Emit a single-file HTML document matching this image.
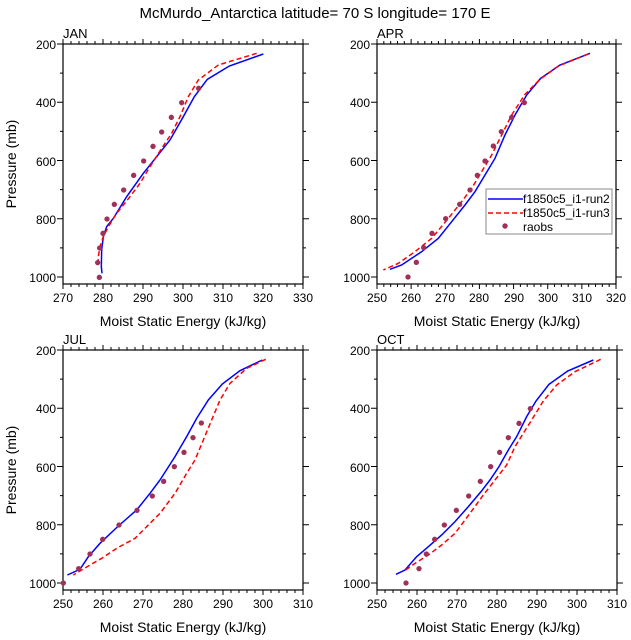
<!DOCTYPE html>
<html><head><meta charset="utf-8"><style>
body{margin:0;background:#fff}
svg{display:block;font-family:"Liberation Sans",Arial,sans-serif}
</style></head><body>
<svg id="s" width="631" height="640" viewBox="0 0 631 640" xmlns="http://www.w3.org/2000/svg">
<rect width="631" height="640" fill="#fff"/>
<text x="315" y="18" font-size="15" text-anchor="middle">McMurdo_Antarctica  latitude= 70 S longitude= 170 E</text>
<g font-size="13">
<text x="63" y="38">JAN</text><text x="377" y="38">APR</text>
<text x="63" y="344">JUL</text><text x="377" y="344">OCT</text>
</g>
<g font-size="12" text-anchor="end">
<text x="56" y="49">200</text><text x="56" y="107">400</text><text x="56" y="166">600</text><text x="56" y="224">800</text><text x="56" y="282">1000</text>
<text x="370" y="49">200</text><text x="370" y="107">400</text><text x="370" y="166">600</text><text x="370" y="224">800</text><text x="370" y="282">1000</text>
<text x="56" y="355">200</text><text x="56" y="413">400</text><text x="56" y="472">600</text><text x="56" y="530">800</text><text x="56" y="588">1000</text>
<text x="370" y="355">200</text><text x="370" y="413">400</text><text x="370" y="472">600</text><text x="370" y="530">800</text><text x="370" y="588">1000</text>
</g>
<g font-size="12" text-anchor="middle">
<text x="63" y="302">270</text><text x="103" y="302">280</text><text x="143" y="302">290</text><text x="183" y="302">300</text><text x="223" y="302">310</text><text x="263" y="302">320</text><text x="303" y="302">330</text>
<text x="377" y="302">250</text><text x="411" y="302">260</text><text x="445" y="302">270</text><text x="479" y="302">280</text><text x="514" y="302">290</text><text x="548" y="302">300</text><text x="582" y="302">310</text><text x="616" y="302">320</text>
<text x="63" y="608">250</text><text x="103" y="608">260</text><text x="143" y="608">270</text><text x="183" y="608">280</text><text x="223" y="608">290</text><text x="263" y="608">300</text><text x="303" y="608">310</text>
<text x="377" y="608">250</text><text x="417" y="608">260</text><text x="457" y="608">270</text><text x="497" y="608">280</text><text x="537" y="608">290</text><text x="577" y="608">300</text><text x="617" y="608">310</text>
</g>
<g font-size="14" text-anchor="middle">
<text x="183" y="326">Moist Static Energy (kJ/kg)</text><text x="497" y="326">Moist Static Energy (kJ/kg)</text>
<text x="183" y="632">Moist Static Energy (kJ/kg)</text><text x="497" y="632">Moist Static Energy (kJ/kg)</text>
<text transform="translate(16,164) rotate(-90)">Pressure (mb)</text>
<text transform="translate(16,470) rotate(-90)">Pressure (mb)</text>
</g>
<g id="axes" stroke="#000" fill="none"></g>
<g id="data"></g>
<g>
<rect x="486" y="189" width="126" height="45" fill="#fff" stroke="#888"/>
<line x1="488" y1="199" x2="523" y2="199" stroke="#00f" stroke-width="1.5"/>
<line x1="488" y1="213" x2="523" y2="213" stroke="#f00" stroke-width="1.5" stroke-dasharray="5,3"/>
<circle cx="505" cy="226" r="2.7" fill="#a0305a"/>
<g font-size="12"><text x="523" y="203">f1850c5_i1-run2</text><text x="523" y="217">f1850c5_i1-run3</text><text x="523" y="231">raobs</text></g>
</g>
</svg>
<script>
var ax=document.getElementById('axes'),dt=document.getElementById('data'),NS='http://www.w3.org/2000/svg';
function el(p,t,a){var e=document.createElementNS(NS,t);for(var k in a)e.setAttribute(k,a[k]);p.appendChild(e);return e;}
function panel(x0,y0,x1,y1,nxmaj,y200,y1000){
 el(ax,'rect',{x:x0,y:y0,width:x1-x0,height:y1-y0,'stroke-width':1.2});
 var d='';var n=nxmaj*5;
 for(var i=0;i<=n;i++){var x=x0+(x1-x0)*i/n,L=(i%5==0)?5:3;d+='M'+x+' '+y1+'v'+L+'M'+x+' '+y0+'v'+(-L);}
 for(var i=0;i<=8;i++){var y=y200+(y1000-y200)*i/8,L=(i%2==0)?6:3;d+='M'+x0+' '+y+'h'+(-L)+'M'+x1+' '+y+'h'+L;}
 el(ax,'path',{d:d,'stroke-width':1});
}
panel(63,44,303,284,6,44,277);
panel(377,44,616,284,7,44,277);
panel(63,350,303,590,6,350,583);
panel(377,350,617,590,6,350,583);
function ser(ox,oy,b,r,o){
 var g=el(dt,'g',{transform:'translate('+ox+','+oy+') scale(0.33333)'});
 el(g,'polyline',{points:b.join(' '),fill:'none',stroke:'#00f','stroke-width':1.5,'vector-effect':'non-scaling-stroke'});
 el(g,'polyline',{points:r.join(' '),fill:'none',stroke:'#f00','stroke-width':1.5,'stroke-dasharray':'5,3','vector-effect':'non-scaling-stroke'});
 o.forEach(function(p){el(g,'circle',{cx:p[0],cy:p[1],r:8,fill:'#a0305a'});});
}
ser(0,20,[[790,102],[688,138],[622,178],[583,230],[550,290],[510,360],[470,410],[430,460],[380,530],[340,595],[320,620],[310,650],[305,690],[304,740],[306,760]],
[[770,100],[655,135],[595,180],[565,230],[540,290],[515,340],[485,385],[450,440],[420,490],[390,530],[350,580],[325,620],[310,650],[300,680],[295,710],[294,740]],
[[596,205],[545,248],[514,292],[485,336],[459,379],[431,423],[401,466],[371,510],[343,553],[321,597],[309,640],[299,684],[293,728],[298,772]]);
ser(375,35,[[645,55],[555,90],[497,130],[455,180],[420,240],[390,300],[360,370],[330,420],[300,470],[270,510],[230,560],[190,610],[140,650],[80,690],[45,703]],
[[640,57],[550,93],[495,133],[450,178],[410,240],[380,300],[350,360],[320,410],[290,460],[260,500],[220,550],[170,610],[120,650],[70,685],[25,705]],
[[448,203],[410,247],[379,290],[355,333],[330,378],[307,421],[285,465],[254,508],[212,551],[171,595],[146,638],[124,682],[99,726]]);
ser(60,340,[[607,60],[540,92],[487,132],[445,180],[410,235],[380,290],[345,350],[300,420],[270,460],[230,510],[175,558],[120,610],[85,650],[60,688],[22,705]],
[[617,58],[560,85],[510,130],[480,180],[455,240],[430,300],[405,360],[380,400],[345,460],[300,520],[270,550],[225,595],[170,625],[125,655],[90,675],[40,705]],
[[424,249],[399,293],[372,337],[343,380],[311,424],[277,468],[231,511],[177,555],[128,598],[90,642],[56,686],[10,729]]);
ser(375,340,[[655,60],[578,93],[522,133],[483,183],[455,230],[425,290],[400,330],[372,380],[345,420],[318,455],[280,500],[240,545],[200,585],[160,620],[125,650],[90,690],[63,703]],
[[677,58],[600,95],[545,135],[505,183],[470,240],[445,280],[420,320],[395,375],[360,420],[325,465],[285,520],[240,580],[200,615],[160,645],[120,670],[85,695]],
[[466,206],[432,250],[400,293],[374,337],[347,380],[316,424],[281,468],[244,511],[208,555],[179,598],[154,642],[132,686],[93,729]]);
</script>
</body></html>
